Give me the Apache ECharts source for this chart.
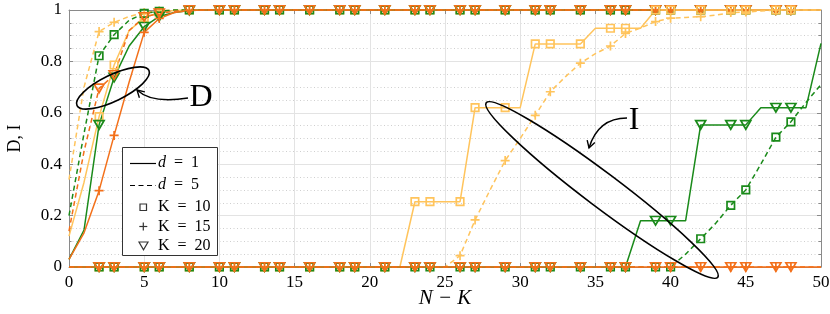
<!DOCTYPE html>
<html><head><meta charset="utf-8">
<script src="https://cdn.jsdelivr.net/npm/echarts@6/dist/echarts.min.js"></script>
<style>html,body{margin:0;padding:0;background:#fff}#c{width:830px;height:314px}</style>
</head><body><div id="c"></div>
<script>
// N - K values (x axis)
const X = [0,1,2,3,4,5,6,7,8,9,10,11,12,13,14,15,16,17,18,19,20,21,22,23,24,25,26,27,28,29,30,31,32,33,34,35,36,37,38,39,40,41,42,43,44,45,46,47,48,49,50];
// x positions carrying a marker
const MARK_X = [2,3,5,6,8,10,11,13,14,16,18,19,21,23,24,26,27,29,31,32,34,36,37,39,40,42,44,45,47,48];
const X_TICKS = [0,5,10,15,20,25,30,35,40,45,50];
const Y_TICKS = [0,0.2,0.4,0.6,0.8,1];

// D curves
const D_d1_K10 = [0.12,0.33,0.585,0.786,0.92,0.97,0.99,0.998,1,1, 1,1,1,1,1,1,1,1,1,1, 1,1,1,1,1,1,1,1,1,1, 1,1,1,1,1,1,1,1,1,1, 1,1,1,1,1,1,1,1,1,1,1];
const D_d5_K15 = [0.34,0.70,0.916,0.952,0.975,0.99,0.997,1,1,1, 1,1,1,1,1,1,1,1,1,1, 1,1,1,1,1,1,1,1,1,1, 1,1,1,1,1,1,1,1,1,1, 1,1,1,1,1,1,1,1,1,1,1];
const D_d1_K20 = [0.03,0.144,0.553,0.737,0.86,0.935,0.975,0.99,0.998,1, 1,1,1,1,1,1,1,1,1,1, 1,1,1,1,1,1,1,1,1,1, 1,1,1,1,1,1,1,1,1,1, 1,1,1,1,1,1,1,1,1,1,1];
const D_d5_K10 = [0.2,0.52,0.822,0.904,0.96,0.987,0.995,1,1,1, 1,1,1,1,1,1,1,1,1,1, 1,1,1,1,1,1,1,1,1,1, 1,1,1,1,1,1,1,1,1,1, 1,1,1,1,1,1,1,1,1,1,1];
const D_d1_K15 = [0.03,0.133,0.297,0.512,0.72,0.913,0.967,0.99,0.998,1, 1,1,1,1,1,1,1,1,1,1, 1,1,1,1,1,1,1,1,1,1, 1,1,1,1,1,1,1,1,1,1, 1,1,1,1,1,1,1,1,1,1,1];
const D_d5_K20 = [0.14,0.45,0.695,0.747,0.92,0.973,0.987,0.995,1,1, 1,1,1,1,1,1,1,1,1,1, 1,1,1,1,1,1,1,1,1,1, 1,1,1,1,1,1,1,1,1,1, 1,1,1,1,1,1,1,1,1,1,1];
// I curves
const I_d1_K10 = [0,0,0,0,0,0,0,0,0,0, 0,0,0,0,0,0,0,0,0,0, 0,0,0,0.254,0.254,0.254,0.254,0.62,0.62,0.62, 0.62,0.868,0.868,0.868,0.868,0.929,0.929,0.929,0.929,1, 1,1,1,1,1,1,1,1,1,1,1];
const I_d5_K15 = [0,0,0,0,0,0,0,0,0,0, 0,0,0,0,0,0,0,0,0,0, 0,0,0,0,0,0,0.044,0.183,0.30,0.414, 0.50,0.59,0.682,0.74,0.793,0.83,0.86,0.909,0.93,0.955, 0.968,0.971,0.974,0.98,0.99,0.992,0.996,1,1,1,1];
const I_d1_K20 = [0,0,0,0,0,0,0,0,0,0, 0,0,0,0,0,0,0,0,0,0, 0,0,0,0,0,0,0,0,0,0, 0,0,0,0,0,0,0,0,0.18,0.18, 0.18,0.18,0.553,0.553,0.553,0.553,0.62,0.62,0.62,0.62,0.87];
const I_d5_K10 = [0,0,0,0,0,0,0,0,0,0, 0,0,0,0,0,0,0,0,0,0, 0,0,0,0,0,0,0,0,0,0, 0,0,0,0,0,0,0,0,0,0, 0,0.05,0.11,0.17,0.24,0.30,0.40,0.505,0.565,0.64,0.71];
const I_d1_K15 = [0,0,0,0,0,0,0,0,0,0, 0,0,0,0,0,0,0,0,0,0, 0,0,0,0,0,0,0,0,0,0, 0,0,0,0,0,0,0,0,0,0, 0,0,0,0,0,0,0,0,0,0,0];
const I_d5_K20 = [0,0,0,0,0,0,0,0,0,0, 0,0,0,0,0,0,0,0,0,0, 0,0,0,0,0,0,0,0,0,0, 0,0,0,0,0,0,0,0,0,0, 0,0,0,0,0,0,0,0,0,0,0];

const LO = '#FFC45C', OR = '#F3701A', GR = '#1A8A1A';
const FONT = '"Liberation Serif", "DejaVu Serif", serif';
const SHAPES = {
  sq: 'path://M0,0L10,0L10,10L0,10Z',
  plus: 'path://M5,0L5,10M0,5L10,5',
  tri: 'path://M0,0L10,0L5,8.66Z'
};
const SIZES = { sq: 7.5, plus: 9, tri: [10, 8.5] };
const markSet = new Set(MARK_X);

function mk(name, ys, color, dashed, shape) {
  return {
    type: 'line', name: name,
    data: X.map((x, i) => [x, ys[i]]),
    lineStyle: { color: color, width: 1.5, type: dashed ? [5, 3.5] : 'solid' },
    itemStyle: { color: 'rgba(255,255,255,0)', borderColor: color, borderWidth: 1.7 },
    symbol: function (v, p) { return markSet.has(X[p.dataIndex]) ? SHAPES[shape] : 'none'; },
    symbolSize: SIZES[shape],
    symbolKeepAspect: false,
    showAllSymbol: true,
    clip: false,
    silent: true,
    animation: false
  };
}

const series = [
  mk('D d1 K10', D_d1_K10, LO, false, 'sq'),
  mk('D d5 K15', D_d5_K15, LO, true, 'plus'),
  mk('D d1 K20', D_d1_K20, GR, false, 'tri'),
  mk('D d5 K10', D_d5_K10, GR, true, 'sq'),
  mk('D d1 K15', D_d1_K15, OR, false, 'plus'),
  mk('D d5 K20', D_d5_K20, OR, true, 'tri'),
  mk('I d1 K10', I_d1_K10, LO, false, 'sq'),
  mk('I d5 K15', I_d5_K15, LO, true, 'plus'),
  mk('I d1 K20', I_d1_K20, GR, false, 'tri'),
  mk('I d5 K10', I_d5_K10, GR, true, 'sq'),
  mk('I d1 K15', I_d1_K15, OR, false, 'plus'),
  mk('I d5 K20', I_d5_K20, OR, true, 'tri')
];

const AX = '#8a8a8a';
function fmtY(v) { return v === 0 ? '0' : v === 1 ? '1' : v.toFixed(1); }

function arrowV(tx, ty, fx, fy, len, w) {
  const dx = tx - fx, dy = ty - fy, L = Math.hypot(dx, dy);
  const ux = dx / L, uy = dy / L;
  const bx = tx - ux * len, by = ty - uy * len;
  return { type: 'polyline', shape: { points: [[bx - uy * w, by + ux * w], [tx, ty], [bx + uy * w, by - ux * w]] },
           style: { stroke: '#000', lineWidth: 1.4, fill: null }, z: 100 };
}

const LX = 122, LY = 147;
const graphic = [
  // D annotation
  { type: 'ellipse', x: 113, y: 88, rotation: 26 * Math.PI / 180, shape: { cx: 0, cy: 0, rx: 40, ry: 13 },
    style: { stroke: '#000', lineWidth: 1.6, fill: null }, z: 100 },
  { type: 'bezierCurve', shape: { x1: 188, y1: 98, cpx1: 152, cpy1: 104, x2: 137, y2: 90 },
    style: { stroke: '#000', lineWidth: 1.4, fill: null }, z: 100 },
  arrowV(137, 90, 152, 104, 7, 4),
  { type: 'text', x: 201, y: 98, style: { text: 'D', font: '32px ' + FONT, fill: '#000', align: 'center', verticalAlign: 'middle' }, z: 100 },
  // I annotation
  { type: 'ellipse', x: 602, y: 190, rotation: -37 * Math.PI / 180, shape: { cx: 0, cy: 0, rx: 145, ry: 17 },
    style: { stroke: '#000', lineWidth: 1.6, fill: null }, z: 100 },
  { type: 'bezierCurve', shape: { x1: 627, y1: 118, cpx1: 598, cpy1: 118, x2: 589, y2: 148 },
    style: { stroke: '#000', lineWidth: 1.4, fill: null }, z: 100 },
  arrowV(589, 148, 598, 118, 7, 4),
  { type: 'text', x: 634, y: 121, style: { text: 'I', font: '32px ' + FONT, fill: '#000', align: 'center', verticalAlign: 'middle' }, z: 100 },
  // legend
  { type: 'rect', shape: { x: LX + 0.5, y: LY + 0.5, width: 95, height: 108 }, style: { fill: '#fff', stroke: '#333', lineWidth: 1 }, z: 100 },
  { type: 'line', shape: { x1: 130, y1: 163.5, x2: 156, y2: 163.5 }, style: { stroke: '#000', lineWidth: 1.2 }, z: 101 },
  { type: 'line', shape: { x1: 130, y1: 185.5, x2: 156, y2: 185.5 }, style: { stroke: '#000', lineWidth: 1.2, lineDash: [5, 3.5] }, z: 101 },
  { type: 'rect', shape: { x: 140, y: 204, width: 6.5, height: 6.5 }, style: { stroke: '#333', lineWidth: 1.2, fill: null }, z: 101 },
  { type: 'polyline', shape: { points: [[143.3, 222.5], [143.3, 230.5]] }, style: { stroke: '#333', lineWidth: 1.2 }, z: 101 },
  { type: 'polyline', shape: { points: [[139.3, 226.5], [147.3, 226.5]] }, style: { stroke: '#333', lineWidth: 1.2 }, z: 101 },
  { type: 'polygon', shape: { points: [[139, 242], [148, 242], [143.5, 249.8]] }, style: { stroke: '#333', lineWidth: 1.2, fill: null }, z: 101 },
  { type: 'text', x: 158, y: 163, style: { text: '{i|d}  =  1', font: '16px ' + FONT, fill: '#000', verticalAlign: 'middle', rich: { i: { fontStyle: 'italic', fontFamily: FONT, fontSize: 16 } } }, z: 101 },
  { type: 'text', x: 158, y: 185, style: { text: '{i|d}  =  5', font: '16px ' + FONT, fill: '#000', verticalAlign: 'middle', rich: { i: { fontStyle: 'italic', fontFamily: FONT, fontSize: 16 } } }, z: 101 },
  { type: 'text', x: 158, y: 207, style: { text: 'K  =  10', font: '16px ' + FONT, fill: '#000', verticalAlign: 'middle' }, z: 101 },
  { type: 'text', x: 158, y: 227, style: { text: 'K  =  15', font: '16px ' + FONT, fill: '#000', verticalAlign: 'middle' }, z: 101 },
  { type: 'text', x: 158, y: 246, style: { text: 'K  =  20', font: '16px ' + FONT, fill: '#000', verticalAlign: 'middle' }, z: 101 }
];

const chart = echarts.init(document.getElementById('c'), null, { renderer: 'canvas' });
chart.setOption({
  animation: false,
  backgroundColor: '#fff',
  grid: { left: 69, right: 9, top: 10, bottom: 47, show: false, containLabel: false, outerBoundsMode: 'none' },
  xAxis: [{
    type: 'value', min: X_TICKS[0], max: X_TICKS[X_TICKS.length - 1], interval: 5,
    axisLine: { show: true, onZero: false, lineStyle: { color: AX, width: 1 } },
    axisTick: { show: true, inside: true, length: 4, lineStyle: { color: AX } },
    axisLabel: { fontFamily: FONT, fontSize: 17, color: '#000', margin: 7 },
    splitLine: { show: true, lineStyle: { color: '#e3e3e3', width: 1 } },
    name: 'N − K', nameLocation: 'middle', nameGap: 21, nameMoveOverlap: false,
    nameTextStyle: { fontFamily: FONT, fontSize: 21, fontStyle: 'italic', color: '#000' }
  }, {
    type: 'value', position: 'top', min: 0, max: 50, interval: 5,
    axisLine: { show: true, onZero: false, lineStyle: { color: AX } },
    axisTick: { show: true, inside: true, length: 4, lineStyle: { color: AX } },
    axisLabel: { show: false }, splitLine: { show: false }
  }],
  yAxis: [{
    type: 'value', min: Y_TICKS[0], max: Y_TICKS[Y_TICKS.length - 1], interval: 0.2,
    axisLine: { show: true, onZero: false, lineStyle: { color: AX } },
    axisTick: { show: true, inside: true, length: 4, lineStyle: { color: AX } },
    minorTick: { show: true, splitNumber: 4, length: 2.5, lineStyle: { color: AX } },
    axisLabel: { fontFamily: FONT, fontSize: 17, color: '#000', margin: 7, formatter: fmtY },
    splitLine: { show: true, lineStyle: { color: '#e3e3e3', width: 1 } },
    minorSplitLine: { show: true, lineStyle: { color: '#cfcfcf', width: 1, type: [1, 2.5] } },
    name: 'D, I', nameLocation: 'middle', nameGap: 45, nameRotate: 90, nameMoveOverlap: false,
    nameTextStyle: { fontFamily: FONT, fontSize: 18, color: '#000' }
  }, {
    type: 'value', position: 'right', min: 0, max: 1, interval: 0.2,
    axisLine: { show: true, onZero: false, lineStyle: { color: AX } },
    axisTick: { show: true, inside: true, length: 4, lineStyle: { color: AX } },
    minorTick: { show: true, splitNumber: 4, length: 2.5, lineStyle: { color: AX } },
    axisLabel: { show: false }, splitLine: { show: false }
  }],
  series: series,
  graphic: graphic
});
</script></body></html>
